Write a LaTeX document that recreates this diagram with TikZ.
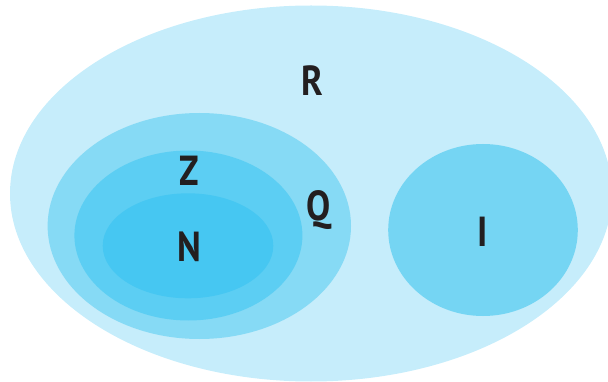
\documentclass[tikz,border=0pt]{standalone}
\usepackage{fontspec}
\setmainfont{PT Sans}
\newcommand{\setname}[1]{\scalebox{0.86}[1]{#1}}
\begin{document}
\begin{tikzpicture}[x=1pt,y=-1pt,
  setlabel/.style={font=\bfseries\fontsize{42}{42}\selectfont, text=labelink, inner sep=0pt}]
\definecolor{setR}{RGB}{198,237,251}
\definecolor{setQ}{RGB}{134,218,245}
\definecolor{setZ}{RGB}{92,206,243}
\definecolor{setN}{RGB}{70,199,242}
\definecolor{setI}{RGB}{117,213,243}
\definecolor{labelink}{RGB}{35,31,32}
\useasboundingbox (0,0) rectangle (608,382);
\clip (0,0) rectangle (608,382);
% real numbers and its subsets
\fill[setR] (311,193.5) ellipse [x radius=301, y radius=188];
\fill[setQ] (199.3,226) ellipse [x radius=151.7, y radius=113];
\fill[setZ] (188.4,235.5) ellipse [x radius=114, y radius=85];
\fill[setN] (188,245.8) ellipse [x radius=85.3, y radius=52.5];
\fill[setI] (483,230) ellipse [x radius=94.8, y radius=86];
% set names
\node[setlabel] (lR) at (312,81) {\setname{R}};
\node[setlabel] (lZ) at (189,171) {\setname{Z}};
\node[setlabel] (lQ) at (319,210) {\setname{Q}};
\node[setlabel] (lN) at (189,247) {\setname{N}};
\node[setlabel] (lI) at (483,232) {\setname{I}};
\end{tikzpicture}
\end{document}
